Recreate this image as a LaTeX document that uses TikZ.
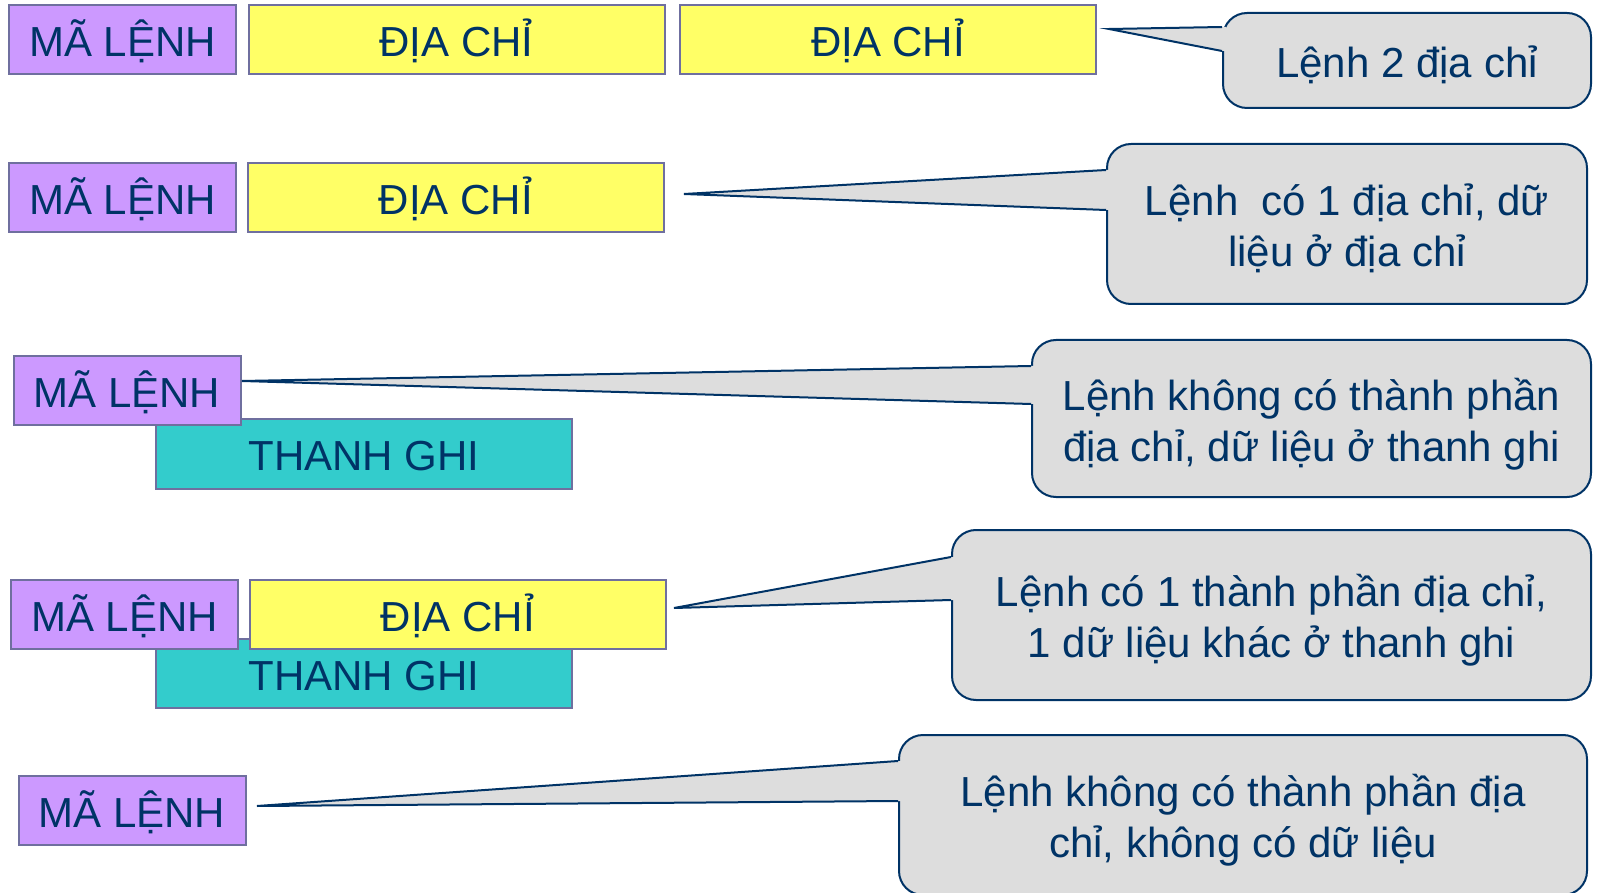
\documentclass[tikz,border=0pt]{standalone}
\usepackage{fontspec}
\setmainfont{Liberation Sans}
\usetikzlibrary{calc}
\definecolor{opcode}{HTML}{CC99FF}
\definecolor{addrfill}{HTML}{FFFF66}
\definecolor{regfill}{HTML}{33CCCC}
\definecolor{ink}{HTML}{003366}
\definecolor{fieldline}{HTML}{6F6F9F}
\definecolor{bubble}{HTML}{DDDDDD}
% fixed line extents so every text sits at the same depth in its box
\newcommand{\capstrut}{\rule{0pt}{22pt}}
\newcommand{\descstrut}{\rule[-5pt]{0pt}{5pt}}

\begin{document}
\begin{tikzpicture}[x=0.5pt,y=-0.5pt,
    font=\fontsize{21}{25.5}\selectfont,
    field/.style={draw=fieldline,line width=1pt,text=ink,inner sep=0pt,
                  minimum height=34.5pt,text height=22pt,text depth=5pt},
    opc/.style={field,fill=opcode,minimum width=113.5pt},
    adr/.style={field,fill=addrfill,minimum width=208pt},
    rgs/.style={field,fill=regfill,minimum width=208pt},
    note/.style={draw=ink,line width=1pt,fill=bubble,rounded corners=12pt,
                 text=ink,align=center,inner sep=0pt}]
  \useasboundingbox (0,0) rectangle (1597,893);
  \fill[white] (0,0) rectangle (1597,893);
  \clip (0,0) rectangle (1597,893);

  % instruction formats
  \node[opc] (ml1) at (122.5,39.5) {MÃ LỆNH};
  \node[adr] (dc1a) at (456.5,39.5) {ĐỊA CHỈ};
  \node[adr] (dc1b) at (888,39.5) {ĐỊA CHỈ};

  \node[opc] (ml2) at (122.5,198) {MÃ LỆNH};
  \node[adr] (dc2) at (456,198) {ĐỊA CHỈ};

  \node[rgs] (tg3) at (364,454) {THANH GHI};
  \node[opc] (ml3) at (127,391) {MÃ LỆNH};

  \node[rgs] (tg4) at (364,673.5) {THANH GHI};
  \node[opc] (ml4) at (124.5,614) {MÃ LỆNH};
  \node[adr] (dc4) at (458,614) {ĐỊA CHỈ};

  \node[opc] (ml5) at (132,810.5) {MÃ LỆNH};

  % callouts
  \node[note,minimum width=184pt,minimum height=47.5pt] (co1) at (1407,60.5)
    {\capstrut\descstrut Lệnh 2 địa chỉ};
  \node[note,minimum width=240pt,minimum height=80pt] (co2) at (1347,224)
    {\capstrut Lệnh~ có 1 địa chỉ, dữ\\\descstrut liệu ở địa chỉ};
  \node[note,minimum width=279.5pt,minimum height=78.5pt] (co3) at (1311.5,418.5)
    {\capstrut Lệnh không có thành phần\\\descstrut địa chỉ, dữ liệu ở thanh ghi};
  \node[note,minimum width=319.5pt,minimum height=85pt] (co4) at (1271.5,615)
    {\capstrut Lệnh có 1 thành phần địa chỉ,\\\descstrut 1 dữ liệu khác ở thanh ghi};
  \node[note,minimum width=344pt,minimum height=80pt] (co5) at (1243,815)
    {\capstrut Lệnh không có thành phần địa\\\descstrut chỉ, không có dữ liệu};

  \coordinate (t1) at (1109,29);
  \coordinate (t2) at (684,194);
  \coordinate (t3) at (242,381);
  \coordinate (t4) at (674,608);
  \coordinate (t5) at (257,806);

  % pointers: fill over the border, then the two edges
  \foreach \i/\a/\b in {1/15/39,2/27/67,3/27/65,4/28/71,5/27/67}{
    \fill[bubble] (t\i) -- ($(co\i.north west)+(0,\a)$) -- ($(co\i.north west)+(4,\a)$)
      -- ($(co\i.north west)+(4,\b)$) -- ($(co\i.north west)+(0,\b)$) -- cycle;
    \draw[ink,line width=1pt,line join=miter]
      ($(co\i.north west)+(0,\a)$) -- (t\i) -- ($(co\i.north west)+(0,\b)$);
  }
\end{tikzpicture}
\end{document}
